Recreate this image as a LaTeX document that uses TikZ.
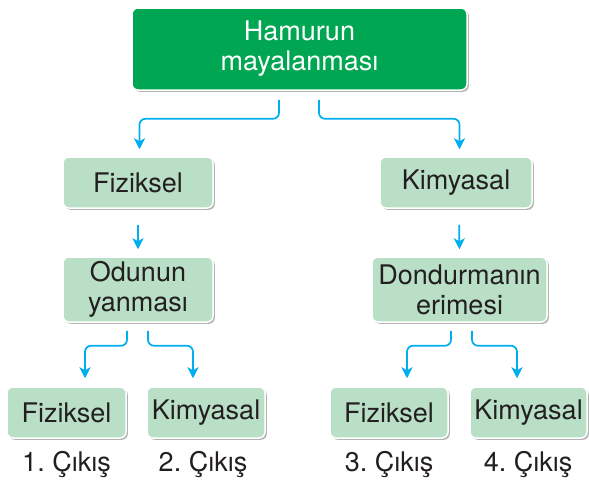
\documentclass[tikz,border=0pt]{standalone}
\usepackage{fontspec}
\setmainfont{TeX Gyre Heros}
\usetikzlibrary{arrows.meta, shadows}
\definecolor{koyuyesil}{RGB}{0,166,81}
\definecolor{acikyesil}{RGB}{185,224,198}
\definecolor{okmavi}{RGB}{0,174,239}
\definecolor{yazi}{RGB}{35,31,32}
\tikzset{kutu/.style={draw=white, line width=1.5pt, rounded corners=6pt,
           fill=acikyesil, text=yazi, align=center, inner sep=0pt,
           font=\fontsize{27}{30}\selectfont,
           drop shadow={shadow xshift=1.8pt, shadow yshift=-1.8pt, fill=black, opacity=0.3}},
         anakutu/.style={kutu, fill=koyuyesil, text=white},
         ok/.style={draw=okmavi, line width=1.7pt, rounded corners=6pt,
           -{Stealth[length=11pt, width=11pt, inset=3pt]}},
         cikis/.style={text=yazi, anchor=base, inner sep=0pt,
           font=\fontsize{27}{30}\selectfont\frenchspacing}}

\begin{document}
\begin{tikzpicture}[x=1pt, y=-1pt]
    \useasboundingbox (0,0) rectangle (589,482);
    % kutular
    \node[anakutu, minimum width=335pt, minimum height=82pt] (maya) at (299.5,49)
      {Hamurun\\mayalanması};
    \node[kutu, minimum width=150pt, minimum height=51pt] (fiz) at (138,182.5) {Fiziksel};
    \node[kutu, minimum width=152pt, minimum height=51pt] (kim) at (456,182.5) {Kimyasal};
    \node[kutu, minimum width=150pt, minimum height=65pt] (odun) at (138,289.5)
      {Odunun\\yanması};
    \node[kutu, minimum width=175pt, minimum height=65pt] (dond) at (459.5,289.5)
      {Dondurmanın\\erimesi};
    \node[kutu, minimum width=119pt, minimum height=51pt] (fizbir) at (66.5,412.5) {Fiziksel};
    \node[kutu, minimum width=118pt, minimum height=51pt] (kimiki) at (206,412.5) {Kimyasal};
    \node[kutu, minimum width=118pt, minimum height=51pt] (fizuc) at (389,412.5) {Fiziksel};
    \node[kutu, minimum width=117pt, minimum height=51pt] (kimdort) at (528.5,412.5) {Kimyasal};
    % etiketler
    \node[cikis] (c1) at (66.5,471) {1. Çıkış};
    \node[cikis] (c2) at (203,471) {2. Çıkış};
    \node[cikis] (c3) at (389,471) {3. Çıkış};
    \node[cikis] (c4) at (528,471) {4. Çıkış};

    % oklar
    \draw[ok, shorten >=7pt] ([xshift=-20.5pt, yshift=-9pt]maya.south) -- ++(0,19)
      -| ([xshift=1.5pt]fiz.north);
    \draw[ok, shorten >=7pt] ([xshift=19.5pt, yshift=-9pt]maya.south) -- ++(0,19)
      -| ([xshift=3.5pt]kim.north);
    \draw[ok, shorten <=16pt, shorten >=7pt] (fiz.south) -- (odun.north);
    \draw[ok, shorten <=16pt, shorten >=7pt] ([xshift=3pt]kim.south) -- (dond.north);
    \draw[ok, shorten >=8pt] ([xshift=-11pt, yshift=-8pt]odun.south) -- ++(0,15)
      -| ([xshift=18.5pt]fizbir.north);
    \draw[ok, shorten >=8pt] ([xshift=10pt, yshift=-8pt]odun.south) -- ++(0,15)
      -| ([xshift=-13pt]kimiki.north);
    \draw[ok, shorten >=8pt] ([xshift=-8.5pt, yshift=-8pt]dond.south) -- ++(0,15)
      -| ([xshift=18pt]fizuc.north);
    \draw[ok, shorten >=8pt] ([xshift=12.5pt, yshift=-8pt]dond.south) -- ++(0,15)
      -| ([xshift=-11.5pt]kimdort.north);
\end{tikzpicture}
\end{document}
